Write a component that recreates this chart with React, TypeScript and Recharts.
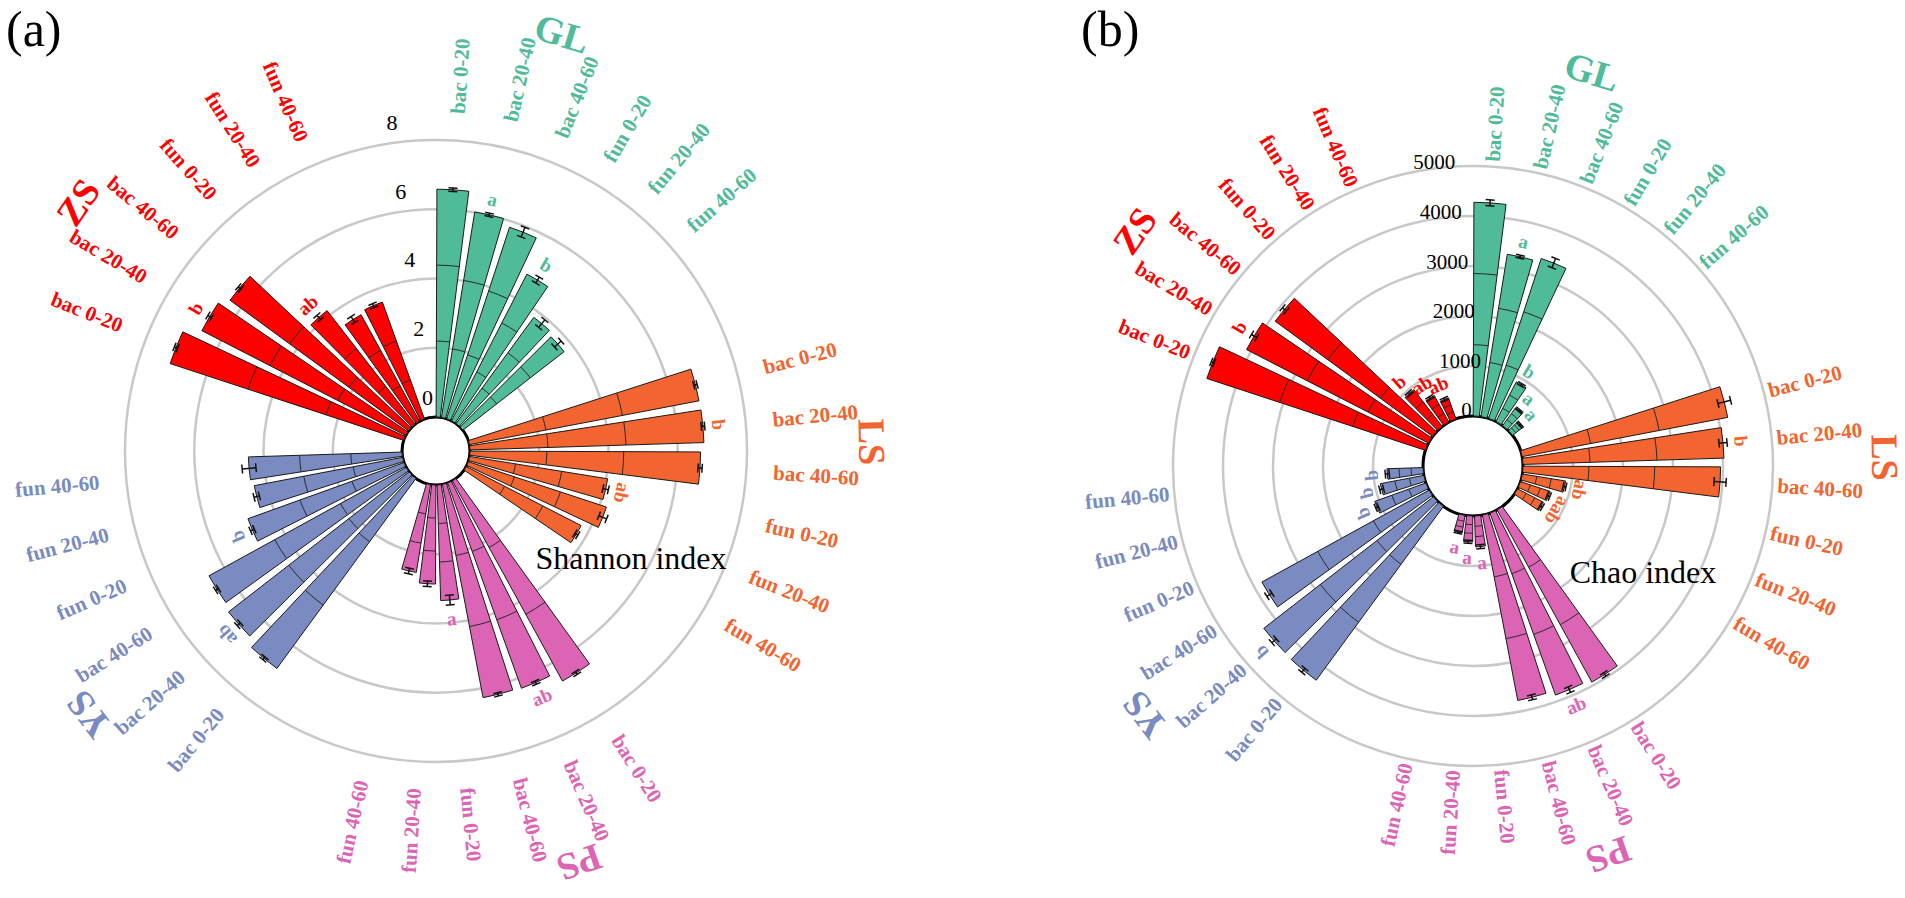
import { RadialBarChart, RadialBar, PolarGrid, PolarAngleAxis, PolarRadiusAxis, Sector } from "recharts"

const groups = ["GL", "LS", "PS", "YS", "ZS"]
const depths = ["bac 0-20", "bac 20-40", "bac 40-60", "fun 0-20", "fun 20-40", "fun 40-60"]
const groupColors = ["#50bb98", "#f26430", "#dc64b4", "#7a8bc1", "#ff0000"]

// Shannon index, one row per group, in depth order
const shannonMeans = [
  [6.58, 6.01, 5.82, 4.76, 3.80, 3.70],
  [6.75, 6.76, 6.66, 4.04, 4.20, 3.73],
  [6.60, 6.30, 6.27, 3.34, 2.86, 2.57],
  [6.80, 6.60, 6.50, 4.79, 4.36, 4.44],
  [7.10, 6.62, 6.39, 4.15, 3.51, 3.59],
]
const shannonErrors = [
  [0.05, 0.05, 0.15, 0.10, 0.14, 0.13],
  [0.05, 0.05, 0.06, 0.08, 0.12, 0.05],
  [0.05, 0.05, 0.05, 0.14, 0.08, 0.08],
  [0.05, 0.06, 0.05, 0.06, 0.08, 0.20],
  [0.05, 0.06, 0.05, 0.08, 0.10, 0.06],
]
const shannonLetters = [
  ["", "a", "", "b", "", ""],
  ["", "b", "", "ab", "", ""],
  ["", "ab", "", "a", "", ""],
  ["", "ab", "", "b", "", ""],
  ["", "b", "", "ab", "", ""],
]

// Chao index
const chaoMeans = [
  [4274, 3290, 3368, 890, 445, 250],
  [4186, 4022, 3952, 876, 624, 584],
  [3932, 3870, 3774, 618, 518, 356],
  [4310, 4296, 3818, 1088, 886, 722],
  [4604, 4092, 3902, 930, 610, 450],
]
const chaoErrors = [
  [60, 30, 100, 25, 20, 20],
  [130, 80, 120, 30, 30, 30],
  [40, 60, 50, 40, 30, 25],
  [50, 60, 60, 30, 40, 40],
  [30, 60, 50, 30, 30, 30],
]
const chaoLetters = [
  ["", "a", "", "b", "a", "a"],
  ["", "b", "", "ab", "a", "ab"],
  ["", "ab", "", "a", "a", "a"],
  ["", "b", "", "b", "b", "b"],
  ["", "b", "", "b", "ab", "ab"],
]

const FONT = "'Liberation Serif', 'Times New Roman', serif"
const RAD = Math.PI / 180

interface Row {
  name: string
  group: number
  label: string
  value: number
  err: number
  letter: string
  groupLabel: string
  gap: boolean
}

function buildRows(means: number[][], errs: number[][], letters: string[][]): Row[] {
  const rows: Row[] = []
  groups.forEach((g, gi) => {
    depths.forEach((d, di) => {
      rows.push({
        name: `${g} ${d}`, group: gi, label: d, value: means[gi][di], err: errs[gi][di],
        letter: letters[gi][di], groupLabel: di === 1 ? g : "", gap: false,
      })
    })
    // two empty slots between groups
    rows.push({ name: `${g} gap1`, group: gi, label: "", value: 0, err: 0, letter: "", groupLabel: "", gap: true })
    rows.push({ name: `${g} gap2`, group: gi, label: "", value: 0, err: 0, letter: "", groupLabel: "", gap: true })
  })
  return rows
}

// a: recharts angle (ccw from east)
function pt(cx: number, cy: number, r: number, a: number) {
  return [cx + r * Math.cos(-a * RAD), cy + r * Math.sin(-a * RAD)]
}

function norm(t: number) {
  return ((t % 360) + 360) % 360
}

interface Panel {
  left: number
  width: number
  cx: number
  cy: number
  inner: number
  outer: number
  max: number
  tickCount: number
  tickDx: number
  tickDy: number
  tickSize: number
  labelR: number
  groupR: number
}

const panelA: Panel = {
  left: 0, width: 940, cx: 436, cy: 451, inner: 34, outer: 311, max: 8, tickCount: 5,
  tickDx: -4, tickDy: -20, tickSize: 22, labelR: 338, groupR: 436,
}
const panelB: Panel = {
  left: 940, width: 965, cx: 533, cy: 466, inner: 50, outer: 300, max: 5000, tickCount: 6,
  tickDx: 0, tickDy: -6, tickSize: 21, labelR: 305, groupR: 412,
}

function makeShape(panel: Panel) {
  return (props: any) => {
    const { cx, cy, innerRadius, outerRadius, startAngle, endAngle, payload } = props
    if (!payload || payload.gap) return <g />
    const color = groupColors[payload.group]
    const len = outerRadius - innerRadius
    const mid = (startAngle + endAngle) / 2
    const e = payload.value ? (payload.err * len) / payload.value : 0
    const theta = norm(90 - mid)

    const dividers = [1, 2].map((k) => {
      const r = innerRadius + (len * k) / 3
      const [x0, y0] = pt(cx, cy, r, startAngle)
      const [x1, y1] = pt(cx, cy, r, endAngle)
      return <path key={k} d={`M${x0},${y0} A${r},${r} 0 0 0 ${x1},${y1}`} stroke="#2a2a2a" strokeWidth={1} fill="none" />
    })

    // error bar
    const tx = Math.sin(mid * RAD)
    const ty = Math.cos(mid * RAD)
    const [ex0, ey0] = pt(cx, cy, outerRadius - e, mid)
    const [ex1, ey1] = pt(cx, cy, outerRadius + e, mid)
    const cap = 4.5

    // significance letter
    let letter = null
    if (payload.letter) {
      const [lx, ly] = pt(cx, cy, outerRadius + e + 14, mid)
      const rot = theta > 135 && theta < 225 ? theta - 180 : theta
      letter = (
        <text x={lx} y={ly} transform={`rotate(${rot},${lx},${ly})`} textAnchor="middle" dominantBaseline="central"
          fontFamily={FONT} fontWeight="bold" fontSize={19} fill={color}>{payload.letter}</text>
      )
    }

    // category label outside the ring
    const [cxl, cyl] = pt(cx, cy, panel.labelR, mid)
    const right = theta < 180
    const crot = right ? theta - 90 : theta + 90

    // group label
    let group = null
    if (payload.groupLabel) {
      const ga = startAngle - 0.6
      const [gx, gy] = pt(cx, cy, panel.groupR, ga)
      const gt = norm(90 - ga)
      group = (
        <text x={gx} y={gy} transform={`rotate(${gt},${gx},${gy})`} textAnchor="middle" dominantBaseline="central"
          fontFamily={FONT} fontWeight="bold" fontSize={38} fill={color}>{payload.groupLabel}</text>
      )
    }

    return (
      <g>
        <Sector cx={cx} cy={cy} innerRadius={innerRadius} outerRadius={outerRadius}
          startAngle={startAngle} endAngle={endAngle} fill={color} stroke="#1a1a1a" strokeWidth={1} />
        {dividers}
        <g stroke="#111" strokeWidth={1.5}>
          <line x1={ex0} y1={ey0} x2={ex1} y2={ey1} />
          <line x1={ex0 - tx * cap} y1={ey0 - ty * cap} x2={ex0 + tx * cap} y2={ey0 + ty * cap} />
          <line x1={ex1 - tx * cap} y1={ey1 - ty * cap} x2={ex1 + tx * cap} y2={ey1 + ty * cap} />
        </g>
        {letter}
        <text x={cxl} y={cyl} transform={`rotate(${crot},${cxl},${cyl})`} textAnchor={right ? "start" : "end"}
          dominantBaseline="central" fontFamily={FONT} fontWeight="bold" fontSize={21} fill={color}>{payload.label}</text>
        {group}
      </g>
    )
  }
}

function CircularBars({ panel, rows }: { panel: Panel; rows: Row[] }) {
  const radiusTick = (props: any) => {
    const { x, y, payload } = props
    return (
      <text x={x + panel.tickDx} y={y + panel.tickDy} textAnchor="middle" dominantBaseline="central"
        fontFamily={FONT} fontSize={panel.tickSize} fill="#000">{payload.value}</text>
    )
  }
  return (
    <div style={{ position: "absolute", left: panel.left, top: 0 }}>
      <RadialBarChart width={panel.width} height={898} data={rows} layout="centric"
        cx={panel.cx} cy={panel.cy} innerRadius={panel.inner} outerRadius={panel.outer}
        startAngle={81.9} endAngle={-278.1} barCategoryGap="10%"
        margin={{ top: 0, right: 0, bottom: 0, left: 0 }}>
        <PolarGrid gridType="circle" radialLines={false} stroke="#c8c8c8" strokeWidth={2.5} />
        <PolarGrid gridType="circle" radialLines={false} polarRadius={[panel.inner]} stroke="#000" strokeWidth={3} />
        <PolarAngleAxis type="category" dataKey="name" tick={false} axisLine={false} tickLine={false} />
        <PolarRadiusAxis type="number" domain={[0, panel.max]} tickCount={panel.tickCount} angle={97.4}
          axisLine={false} tickLine={false} tick={radiusTick} />
        <RadialBar dataKey="value" shape={makeShape(panel)} isAnimationActive={false} />
      </RadialBarChart>
    </div>
  )
}

export default function App() {
  const shannonRows = buildRows(shannonMeans, shannonErrors, shannonLetters)
  const chaoRows = buildRows(chaoMeans, chaoErrors, chaoLetters)
  return (
    <div style={{ position: "absolute", left: 0, top: 0, width: 1905, height: 898, background: "#fff", overflow: "hidden" }}>
      <CircularBars panel={panelA} rows={shannonRows} />
      <CircularBars panel={panelB} rows={chaoRows} />
      <svg width={1905} height={898} style={{ position: "absolute", left: 0, top: 0, pointerEvents: "none" }}>
        <text x={6} y={46} fontFamily={FONT} fontSize={50}>(a)</text>
        <text x={1081} y={46} fontFamily={FONT} fontSize={50}>(b)</text>
        <text x={631} y={558} textAnchor="middle" dominantBaseline="central" fontFamily={FONT} fontSize={32}>Shannon index</text>
        <text x={1643} y={572} textAnchor="middle" dominantBaseline="central" fontFamily={FONT} fontSize={32}>Chao index</text>
      </svg>
    </div>
  )
}
